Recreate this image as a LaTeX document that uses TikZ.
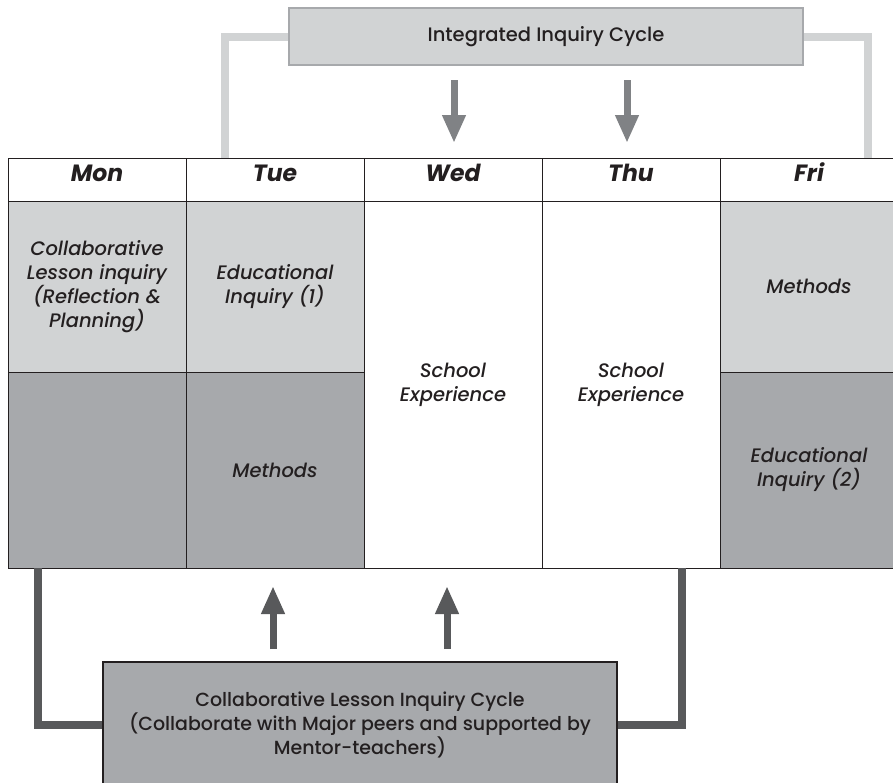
\documentclass[tikz,border=0pt]{standalone}
\usepackage{fontspec}
\setmainfont{Poppins}[UprightFont=* Medium,ItalicFont=* Medium Italic,BoldFont=* Bold,BoldItalicFont=* Bold Italic]
\usetikzlibrary{positioning,arrows.meta}
\definecolor{lgray}{HTML}{D1D3D4}
\definecolor{mgray}{HTML}{A7A9AC}
\definecolor{agray}{HTML}{808285}
\definecolor{dgray}{HTML}{58595B}
\definecolor{ink}{HTML}{231F20}
\begin{document}
\begin{tikzpicture}[x=1pt,y=-1pt,every node/.append style={text=ink},
	cell/.style={draw=ink,line width=.9pt,outer sep=0pt,inner sep=0pt,minimum width=178pt,align=center,font=\fontsize{19.5}{24}\selectfont\itshape},
	hcell/.style={cell,minimum height=43pt,fill=white,text height=16pt,text depth=12pt,font=\fontsize{23.5}{26}\selectfont\bfseries\itshape},
	upcell/.style={cell,minimum height=171pt,fill=lgray},
	lowcell/.style={cell,minimum height=196pt,fill=mgray},
	fullcell/.style={cell,minimum height=367pt,fill=white},
	lconn/.style={lgray,line width=8pt},
	dconn/.style={dgray,line width=8pt},
	blockarrow/.style={line width=7pt,-{Triangle[width=22pt,length=28pt]}}]
	\useasboundingbox (0,0) rectangle (893,782);
	\node[draw=mgray,fill=lgray,line width=1.5pt,minimum width=514pt,minimum height=57pt,font=\fontsize{19.5}{24}\selectfont] (iic) at (546,36.5) {Integrated Inquiry Cycle};
	\coordinate (tl) at (225,158);
	\coordinate (tr) at (868,158);
	\draw[lconn] (iic.west) -| (tl);
	\draw[lconn] (iic.east) -| (tr);
	\coordinate (da) at (454,80);
	\coordinate (dae) at (454,143);
	\coordinate (db) at (627,80);
	\coordinate (dbe) at (627,143);
	\draw[blockarrow,agray] (da) -- (dae);
	\draw[blockarrow,agray] (db) -- (dbe);
	\node[hcell,anchor=north west] (mon) at (8,158) {Mon};
	\node[hcell,right=0pt of mon] (tue) {Tue};
	\node[hcell,right=0pt of tue] (wed) {Wed};
	\node[hcell,right=0pt of wed] (thu) {Thu};
	\node[hcell,right=0pt of thu] (fri) {Fri};
	\node[upcell,below=0pt of mon] (monA) {Collaborative\\Lesson inquiry\\(Reflection \&\\Planning)};
	\node[upcell,below=0pt of tue] (tueA) {Educational\\Inquiry (1)};
	\node[fullcell,below=0pt of wed] (wedA) {School\\Experience};
	\node[fullcell,below=0pt of thu] (thuA) {School\\Experience};
	\node[upcell,below=0pt of fri] (friA) {Methods};
	\node[lowcell,below=0pt of monA] (monB) {};
	\node[lowcell,below=0pt of tueA] (tueB) {Methods};
	\node[lowcell,below=0pt of friA] (friB) {Educational\\Inquiry (2)};
	\node[draw=ink,fill=mgray,line width=1.2pt,minimum width=514pt,minimum height=125pt,align=center,font=\fontsize{19}{24}\selectfont] (clc) at (360,724.5) {Collaborative Lesson Inquiry Cycle\\(Collaborate with Major peers and supported by\\Mentor-teachers)};
	\coordinate (bl) at (37.5,568);
	\coordinate (br) at (682,568);
	\draw[dconn] (bl) |- (clc.west);
	\draw[dconn] (br) |- (clc.east);
	\coordinate (ua) at (273,649);
	\coordinate (uae) at (273,586);
	\coordinate (ub) at (447,649);
	\coordinate (ube) at (447,586);
	\draw[blockarrow,dgray] (ua) -- (uae);
	\draw[blockarrow,dgray] (ub) -- (ube);
\end{tikzpicture}
\end{document}
